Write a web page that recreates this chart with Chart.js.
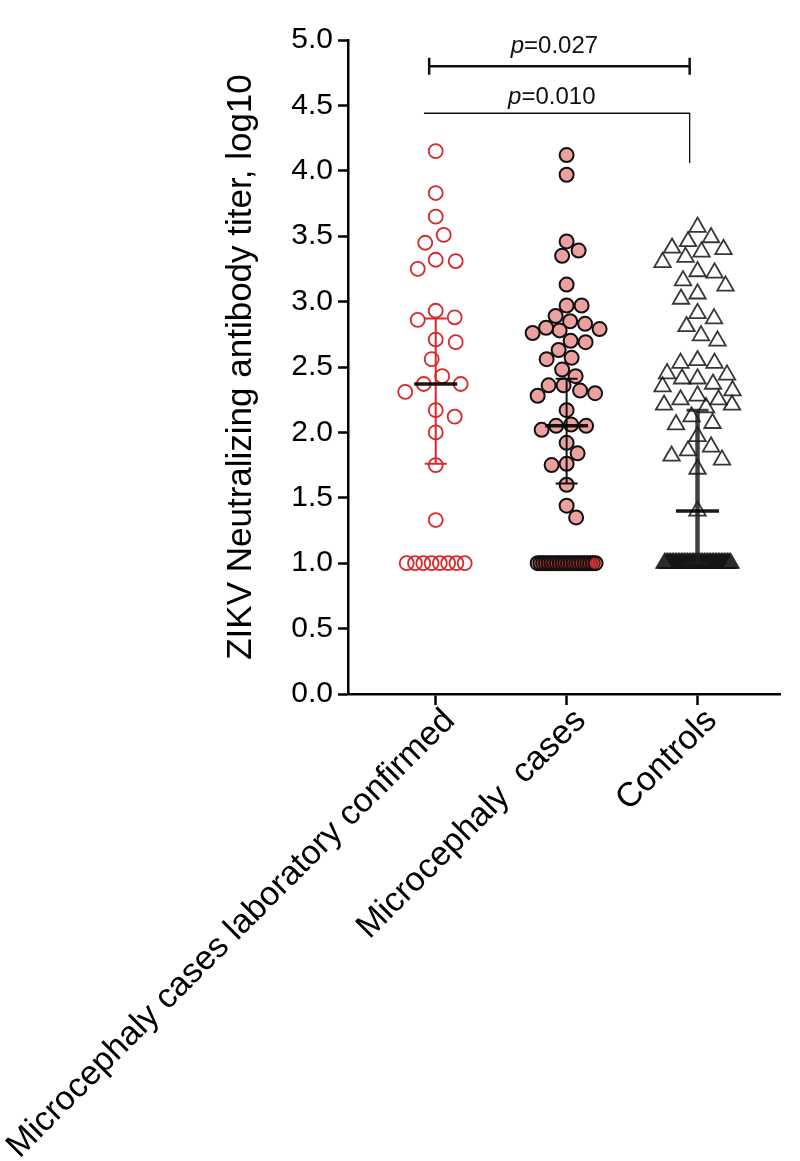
<!DOCTYPE html>
<html>
<head>
<meta charset="utf-8">
<script src="https://cdn.jsdelivr.net/npm/chart.js@4.4.1/dist/chart.umd.min.js"></script>
<style>
  html, body { margin: 0; padding: 0; background: #fff; }
  canvas { display: block; }
</style>
</head>
<body>
<canvas id="titer-chart" width="800" height="1161"></canvas>
<script>
/* -------------  DATA  ------------- */

const groupLabels = ['Microcephaly cases laboratory confirmed', 'Microcephaly  cases', 'Controls'];

// log10 titers (1.0 = below detection)
const labConfirmedTiters = [
  4.15, 3.83, 3.65, 3.51, 3.45, 3.32, 3.31, 3.25, 2.93, 2.88, 2.86, 2.71, 2.69, 2.56, 2.43, 2.37,
  2.37, 2.31, 2.17, 2.12, 2.00, 1.75, 1.33,
  1, 1, 1, 1, 1, 1, 1, 1,
];
const casesTiters = [
  4.12, 3.97, 3.46, 3.39, 3.35, 3.13, 2.97, 2.97, 2.89, 2.85, 2.83, 2.80, 2.79, 2.78, 2.76, 2.70,
  2.69, 2.63, 2.57, 2.56, 2.48, 2.43, 2.36, 2.36, 2.32, 2.30, 2.28, 2.17, 2.06, 2.05, 2.05, 2.02,
  1.92, 1.84, 1.76, 1.75, 1.60, 1.44, 1.35,
  1, 1, 1, 1, 1, 1, 1, 1, 1, 1, 1, 1, 1, 1, 1, 1, 1, 1, 1, 1, 1, 1,
];
const controlsTiters = [
  3.57, 3.49, 3.46, 3.41, 3.40, 3.38, 3.34, 3.30, 3.23, 3.22, 3.16, 3.12, 3.06, 3.02, 2.91, 2.87,
  2.81, 2.74, 2.70, 2.55, 2.53, 2.53, 2.45, 2.44, 2.41, 2.41, 2.37, 2.35, 2.32, 2.28, 2.25, 2.25,
  2.21, 2.21, 2.19, 2.12, 2.07, 2.06, 1.97, 1.89, 1.86, 1.82, 1.79, 1.72, 1.40,
  1, 1, 1, 1, 1, 1, 1, 1, 1, 1, 1, 1, 1, 1, 1, 1, 1, 1, 1, 1, 1, 1,
  1, 1, 1, 1, 1, 1, 1, 1, 1, 1, 1, 1, 1, 1, 1, 1, 1, 1, 1, 1, 1, 1,
];

// centre line and bar ends per group
const centreValues = [2.37, 2.05, 1.40];
const barLow = [1.76, 1.61, 1.00];
const barHigh = [2.87, 2.41, 2.17];

const pValues = ['0.027', '0.010'];

const FONT = '"Liberation Sans", Arial, Helvetica, sans-serif';
const PX_PER_UNIT = 131;
const FLOOR = 1;

/* -------------  SWARM LAYOUT  ------------- */

/**
 * Spreads the points of one group sideways so they don't pile up (beeswarm).
 * Values on the detection floor are laid out in one evenly spaced row.
 */
function swarmOffsets(values, minDist, maxHalf, floorHalf) {
  const placed = [];
  const offsets = [];
  const floorCount = values.filter((v) => v === FLOOR).length;
  let floorSeen = 0;
  let side = 1;
  values.forEach((v) => {
    if (v === FLOOR) {
      const t = floorCount > 1 ? floorSeen / (floorCount - 1) : 0.5;
      offsets.push((-floorHalf + 2 * floorHalf * t) / PX_PER_UNIT);
      floorSeen++;
      return;
    }
    const yPx = v * PX_PER_UNIT;
    let best = 0;
    let bestGap = -1;
    search:
    for (let mag = 0; mag <= maxHalf; mag += 0.5) {
      for (const s of [side, -side]) {
        const c = s * mag;
        let gap = Infinity;
        placed.forEach((p) => { gap = Math.min(gap, Math.hypot(c - p.x, yPx - p.y)); });
        if (gap >= minDist) { best = c; break search; }
        if (gap > bestGap) { bestGap = gap; best = c; }
        if (mag === 0) break;
      }
    }
    if (best !== 0) side = -Math.sign(best);
    placed.push({ x: best, y: yPx });
    offsets.push(best / PX_PER_UNIT);
  });
  return offsets;
}

function buildPoints(values, groupIndex, minDist, maxHalf, floorHalf) {
  const offsets = swarmOffsets(values, minDist, maxHalf, floorHalf);
  return values.map((v, i) => ({ x: groupIndex + 1 + offsets[i], y: v }));
}

/* -------------  PLUGINS  ------------- */

const barStyles = [
  { color: '#d8282b', width: 2 },
  { color: '#111', width: 2 },
  { color: 'rgba(30,30,30,0.85)', width: 4.5 },
];

const errorBarPlugin = {
  id: 'errorBars',
  afterDatasetsDraw(chart) {
    const { ctx, scales: { x, y } } = chart;
    ctx.save();
    groupLabels.forEach((label, i) => {
      const cx = x.getPixelForValue(i + 1);
      const yHi = y.getPixelForValue(barHigh[i]);
      const yLo = y.getPixelForValue(barLow[i]);
      const yMid = y.getPixelForValue(centreValues[i]);
      ctx.strokeStyle = barStyles[i].color;
      ctx.lineWidth = barStyles[i].width;
      ctx.beginPath();
      ctx.moveTo(cx, yHi);
      ctx.lineTo(cx, yLo);
      ctx.stroke();
      ctx.lineWidth = i === 2 ? 3 : 2;
      ctx.beginPath();
      ctx.moveTo(cx - 11, yHi);
      ctx.lineTo(cx + 11, yHi);
      ctx.moveTo(cx - 11, yLo);
      ctx.lineTo(cx + 11, yLo);
      ctx.stroke();
      ctx.strokeStyle = 'rgba(0,0,0,0.9)';
      ctx.lineWidth = 3.5;
      ctx.beginPath();
      ctx.moveTo(cx - 21.5, yMid);
      ctx.lineTo(cx + 21.5, yMid);
      ctx.stroke();
    });
    ctx.restore();
  },
};

function drawPText(ctx, text, cx, cy) {
  ctx.font = 'italic 24px ' + FONT;
  const wp = ctx.measureText('p').width;
  ctx.font = '24px ' + FONT;
  const wr = ctx.measureText('=' + text).width;
  const left = cx - (wp + wr) / 2;
  ctx.textBaseline = 'middle';
  ctx.textAlign = 'left';
  ctx.font = 'italic 24px ' + FONT;
  ctx.fillText('p', left, cy);
  ctx.font = '24px ' + FONT;
  ctx.fillText('=' + text, left + wp, cy);
}

const significancePlugin = {
  id: 'significance',
  afterDraw(chart) {
    const { ctx, scales: { x, y } } = chart;
    ctx.save();
    ctx.fillStyle = '#111';
    ctx.strokeStyle = '#111';

    // confirmed cases vs controls
    const x1 = x.getPixelForValue(0.95);
    const x2 = x.getPixelForValue(2.94);
    const yb1 = y.getPixelForValue(4.8);
    ctx.lineWidth = 2.5;
    ctx.beginPath();
    ctx.moveTo(x1, yb1);
    ctx.lineTo(x2, yb1);
    ctx.moveTo(x1, yb1 - 8.5);
    ctx.lineTo(x1, yb1 + 8.5);
    ctx.moveTo(x2, yb1 - 8.5);
    ctx.lineTo(x2, yb1 + 8.5);
    ctx.stroke();
    drawPText(ctx, pValues[0], (x1 + x2) / 2 - 5, y.getPixelForValue(4.95));

    // all cases vs controls
    const x3 = x.getPixelForValue(0.91);
    const yb2 = y.getPixelForValue(4.44);
    ctx.lineWidth = 1.3;
    ctx.beginPath();
    ctx.moveTo(x3, yb2);
    ctx.lineTo(x2, yb2);
    ctx.lineTo(x2, y.getPixelForValue(4.06));
    ctx.stroke();
    drawPText(ctx, pValues[1], (x3 + x2) / 2 - 5, y.getPixelForValue(4.56));
    ctx.restore();
  },
};

/* -------------  CHART  ------------- */

function setChartData() {
  return {
    datasets: [
      {
        label: groupLabels[0],
        data: buildPoints(labConfirmedTiters, 0, 20, 35, 29),
        pointStyle: 'circle',
        pointRadius: 7,
        pointHoverRadius: 7,
        pointBorderWidth: 1.8,
        pointBorderColor: '#d8282b',
        pointBackgroundColor: 'rgba(0,0,0,0)',
      },
      {
        label: groupLabels[1],
        data: buildPoints(casesTiters, 1, 15, 34, 29),
        pointStyle: 'circle',
        pointRadius: 7,
        pointHoverRadius: 7,
        pointBorderWidth: 2,
        pointBorderColor: '#111',
        pointBackgroundColor: 'rgba(215,45,45,0.45)',
      },
      {
        label: groupLabels[2],
        data: buildPoints(controlsTiters, 2, 17, 35, 33),
        pointStyle: 'triangle',
        pointRadius: 9.5,
        pointHoverRadius: 9.5,
        pointBorderWidth: 1.8,
        pointBorderColor: 'rgba(20,20,20,0.85)',
        pointBackgroundColor: 'rgba(0,0,0,0)',
      },
    ],
  };
}

const axisGrid = { drawOnChartArea: false, tickWidth: 2.5, tickColor: '#000' };

new Chart(document.getElementById('titer-chart'), {
  type: 'scatter',
  data: setChartData(),
  options: {
    responsive: false,
    animation: false,
    events: [],
    layout: { padding: { left: 216, right: 20, top: 40, bottom: 0 } },
    plugins: { legend: { display: false }, tooltip: { enabled: false } },
    scales: {
      x: {
        type: 'linear',
        min: 0.33,
        max: 3.63,
        afterBuildTicks: (scale) => { scale.ticks = groupLabels.map((l, i) => ({ value: i + 1 })); },
        afterFit: (scale) => { scale.height = 467; scale.paddingLeft = 0; scale.paddingRight = 0; },
        ticks: {
          autoSkip: false,
          minRotation: 45,
          maxRotation: 45,
          padding: -4,
          labelOffset: 14,
          color: '#000',
          font: { family: FONT, size: 34 },
          callback: (v) => groupLabels[v - 1],
        },
        grid: { ...axisGrid, tickLength: 11 },
        border: { color: '#000', width: 2.5 },
      },
      y: {
        min: 0,
        max: 5,
        afterFit: (scale) => { scale.width = 132; },
        ticks: {
          stepSize: 0.5,
          padding: 5,
          color: '#000',
          font: { family: FONT, size: 30 },
          callback: (v) => v.toFixed(1),
        },
        grid: { ...axisGrid, tickLength: 10 },
        border: { color: '#000', width: 2.5 },
        title: {
          display: true,
          text: 'ZIKV Neutralizing antibody titer, log10',
          color: '#000',
          font: { family: FONT, size: 35 },
          padding: { top: 4, bottom: 4 },
        },
      },
    },
  },
  plugins: [errorBarPlugin, significancePlugin],
});
</script>
</body>
</html>
